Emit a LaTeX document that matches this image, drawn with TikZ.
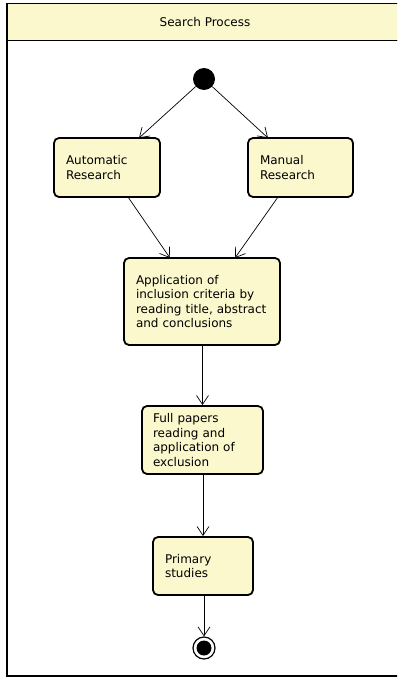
\documentclass[tikz,border=0pt]{standalone}
\usepackage{fontspec}
\setmainfont{DejaVu Sans}
\usetikzlibrary{arrows.meta}
\definecolor{boxfill}{HTML}{FAF8CC}
\tikzset{
  act/.style={draw=black, line width=1.8pt, rounded corners=5pt, fill=boxfill,
    align=left, inner xsep=12pt, inner ysep=0pt, font=\fontsize{12}{14.5}\selectfont},
  flow/.style={draw=black, line width=0.7pt, -{Straight Barb[length=9pt,width=12pt,line width=0.7pt]}},
}
\begin{document}
\begin{tikzpicture}[x=1pt,y=-1pt]
\useasboundingbox (0,0) rectangle (397,677);
\begin{scope}
\clip (0,0) rectangle (397,677);
% frame
\node[draw=black, line width=1.5pt, fill=boxfill, minimum width=400pt, minimum height=37pt, anchor=north west, inner sep=0pt] (hdr) at (6,3) {};
\node[draw=black, line width=1.5pt, minimum width=400pt, minimum height=635pt, anchor=north west, inner sep=0pt] (frame) at (6,40) {};
\end{scope}
\node[font=\fontsize{12}{14.5}\selectfont] (title) at (205,22) {Search Process};
% start
\node[circle, fill=black, minimum size=22pt, inner sep=0pt] (start) at (204,79) {};
% activities
\node[act, text width=82pt, minimum height=59pt] (auto) at (107,167.5) {Automatic\\Research};
\node[act, text width=81pt, minimum height=59pt] (man) at (300.5,167.5) {Manual\\Research};
\node[act, text width=132pt, minimum height=87pt] (app) at (202,301.5) {Application of\\inclusion criteria by\\reading title, abstract\\and conclusions};
\node[act, text width=99pt, minimum height=68pt, inner xsep=11pt] (full) at (202.5,440) {Full papers\\reading and\\application of\\exclusion};
\node[act, text width=76pt, minimum height=58pt] (prim) at (203,566) {Primary\\studies};
% end
\node[circle, draw=black, line width=1.2pt, minimum size=22pt, inner sep=0pt] (end) at (204,648) {};
\node[circle, fill=black, minimum size=15pt, inner sep=0pt] (endin) at (end.center) {};
% connectors
\coordinate (a1) at (139,138);
\coordinate (a2) at (268,138);
\draw[flow] (start) -- (a1);
\draw[flow] (start) -- (a2);
\coordinate (b1) at (128,197);
\coordinate (b2) at (170,258);
\coordinate (c1) at (278,197);
\coordinate (c2) at (235,258);
\draw[flow] (b1) -- (b2);
\draw[flow] (c1) -- (c2);
\draw[flow] (app.south -| full.center) -- (full.north);
\draw[flow] (full.south -| prim.center) -- (prim.north);
\draw[flow] (prim.south -| end.center) -- (end.north);
\end{tikzpicture}
\end{document}
